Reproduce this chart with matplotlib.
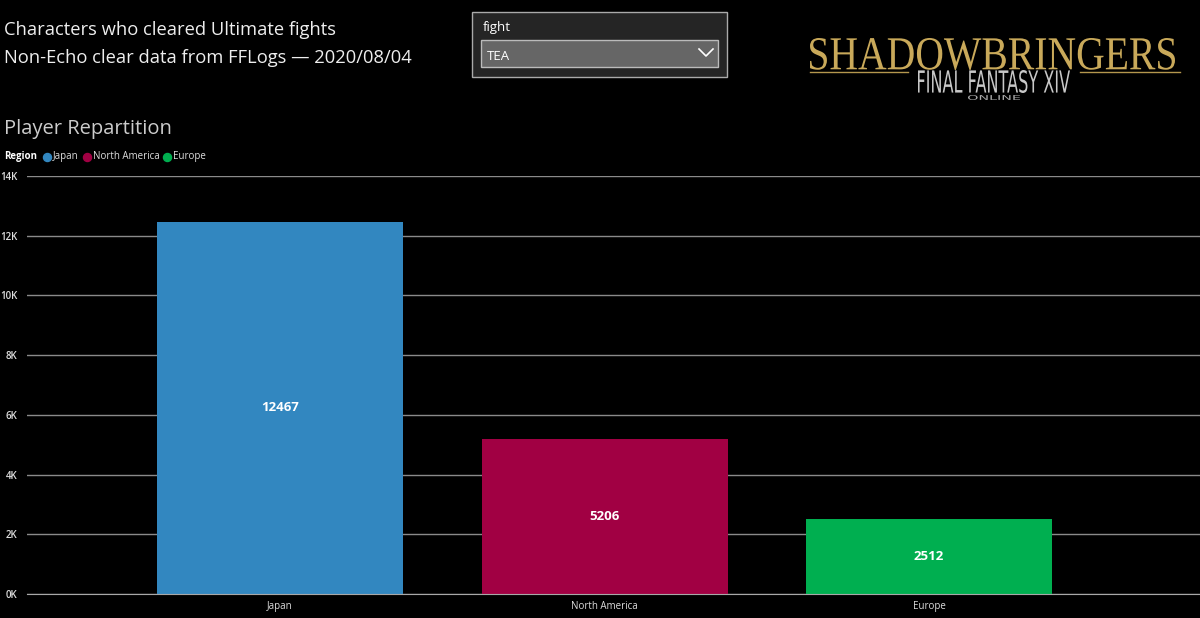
import numpy as np
import matplotlib.pyplot as plt
from matplotlib.patches import Rectangle, PathPatch
from matplotlib.lines import Line2D
from matplotlib.textpath import TextPath
from matplotlib.font_manager import FontProperties
from matplotlib.transforms import Affine2D

## data
regions = ["Japan", "North America", "Europe"]
players = [12467, 5206, 2512]
bar_colors = ["#3287C0", "#A10043", "#00AF50"]
y_ticks = [0, 2000, 4000, 6000, 8000, 10000, 12000, 14000]
y_tick_labels = ["0K", "2K", "4K", "6K", "8K", "10K", "12K", "14K"]

W, H = 1200, 618
plt.rcParams['font.family'] = ['Open Sans', 'DejaVu Sans']

fig = plt.figure(figsize=(W / 100, H / 100), dpi=100, facecolor="black")


def px(x, y):
    ## pixel position (from top left) to figure fraction
    return x / W, 1 - y / H


## main bar axes
ax = fig.add_axes([27 / W, (H - 594) / H, (W - 27) / W, (594 - 176) / H])
ax.set_facecolor("black")
x = np.arange(len(regions))
bars = ax.bar(x, players, width=0.758, color=bar_colors, zorder=3)
ax.set_xlim(-0.78, 2.835)
ax.set_ylim(0, 14000)
ax.set_yticks(y_ticks)
ax.set_yticklabels(y_tick_labels)
ax.set_xticks(x)
ax.set_xticklabels(regions)
ax.tick_params(axis="both", length=0, colors="#dddddd", labelsize=7)
ax.tick_params(axis="y", pad=7)
ax.tick_params(axis="x", pad=5)
for lab in ax.get_yticklabels():
    lab.set_fontweight("semibold")
ax.grid(axis="y", color="#8a8a8a", linewidth=1, zorder=0)
for side in ["top", "right", "left"]:
    ax.spines[side].set_visible(False)
ax.spines["bottom"].set_color("#a8a8a8")
ax.spines["bottom"].set_zorder(4)

## values in the middle of the bars
for xi, val in zip(x, players):
    ax.text(xi, val / 2, str(val), ha="center", va="center", color="white",
            fontsize=9.5, fontweight="bold", zorder=5)

## titles
fig.text(*px(4, 30), "Characters who cleared Ultimate fights", color="#eeeeee",
         fontsize=13.2, va="center", ha="left")
fig.text(*px(4, 58), "Non-Echo clear data from FFLogs \u2014 2020/08/04", color="#eeeeee",
         fontsize=13.2, va="center", ha="left")
fig.text(*px(4, 129), "Player Repartition", color="#cccccc",
         fontsize=14.5, va="center", ha="left")

## legend
fig.text(*px(4, 157), "Region", color="white", fontsize=7, fontweight="bold",
         va="center", ha="left")
legend_dots = [47, 87, 167]
legend_text = [53, 93, 173]
for dx, tx, name, col in zip(legend_dots, legend_text, regions, bar_colors):
    fig.add_artist(Line2D([dx / W], [1 - 157 / H], marker="o", markersize=5.8,
                          color=col, linestyle="none", transform=fig.transFigure))
    fig.text(*px(tx, 156.5), name, color="#dddddd", fontsize=7, va="center", ha="left")

## dropdown slicer
fig.add_artist(Rectangle(px(472, 77), 255 / W, 65 / H, transform=fig.transFigure,
                         facecolor="#252525", edgecolor="#aaaaaa", linewidth=1))
fig.text(*px(483, 27), "fight", color="white", fontsize=9.5, va="center", ha="left")
fig.add_artist(Rectangle(px(481, 67), 237 / W, 27 / H, transform=fig.transFigure,
                         facecolor="#666666", edgecolor="#bbbbbb", linewidth=1))
fig.text(*px(487, 56), "TEA", color="white", fontsize=9.5, va="center", ha="left")
fig.add_artist(Line2D([699 / W, 706 / W, 713 / W], [1 - 49 / H, 1 - 56 / H, 1 - 49 / H],
                      color="white", linewidth=1.2, transform=fig.transFigure))


## logo text squeezed into pixel boxes
def boxed_text(s, x0, y0, x1, y1, family, color, weight="normal"):
    tp = TextPath((0, 0), s, size=1, prop=FontProperties(family=family, weight=weight))
    ext = tp.get_extents()
    sx = (x1 - x0) / W / ext.width
    sy = (y1 - y0) / H / ext.height
    tr = Affine2D().translate(-ext.x0, -ext.y0).scale(sx, sy).translate(x0 / W, 1 - y1 / H)
    path = tr.transform_path(tp)
    fig.add_artist(PathPatch(path, facecolor=color, edgecolor="none", transform=fig.transFigure))


boxed_text("SHADOWBRINGERS", 810, 38, 1175, 70, "Liberation Serif", "#C9A95A")
fig.add_artist(Line2D([810 / W, 908 / W], [1 - 72 / H] * 2, color="#B4974E",
                      linewidth=1, transform=fig.transFigure))
fig.add_artist(Line2D([1080 / W, 1180 / W], [1 - 72 / H] * 2, color="#B4974E",
                      linewidth=1, transform=fig.transFigure))
boxed_text("FINAL FANTASY XIV", 918, 70, 1070, 93, "DejaVu Sans", "#c8c8c8")
boxed_text("ONLINE", 968, 95, 1020, 100, "DejaVu Sans", "#aaaaaa")

fig.savefig("out.png", dpi=100, facecolor="black")
